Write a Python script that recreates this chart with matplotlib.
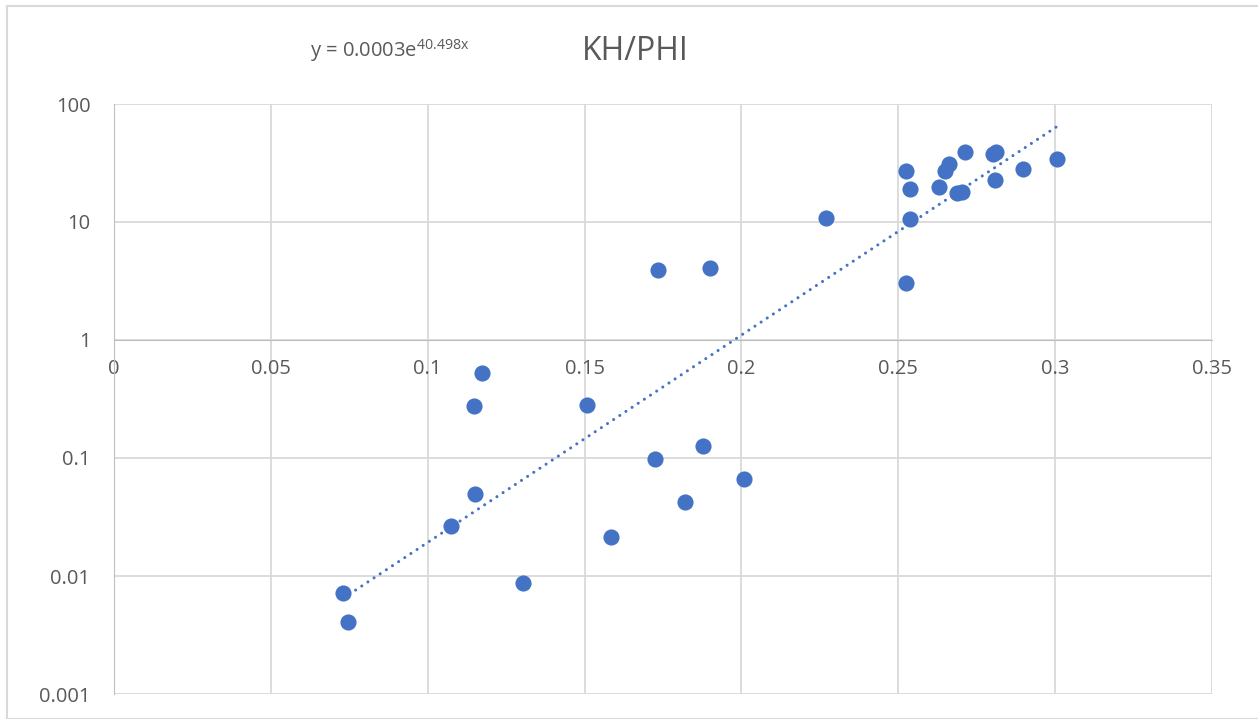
import matplotlib.pyplot as plt
import numpy as np
from matplotlib.patches import Rectangle
from matplotlib.ticker import FixedLocator, FixedFormatter

plt.rcParams['font.family'] = ['Open Sans', 'DejaVu Sans']
plt.rcParams['mathtext.fontset'] = 'custom'
plt.rcParams['mathtext.rm'] = 'Open Sans'

# porosity vs KH/PHI
phi = [0.0731, 0.0747, 0.1075, 0.1152, 0.1146, 0.1174, 0.1305, 0.1509, 0.1585,
       0.1725, 0.1821, 0.1878, 0.2009, 0.1735, 0.1901, 0.2268, 0.2526, 0.2526,
       0.2538, 0.2538, 0.2630, 0.2650, 0.2663, 0.2688, 0.2704, 0.2714, 0.2803,
       0.2813, 0.2809, 0.2898, 0.3007]
kh_phi = [0.00718, 0.00407, 0.0265, 0.0495, 0.276, 0.525, 0.0087, 0.281, 0.0214,
          0.098, 0.0424, 0.126, 0.0664, 3.92, 4.07, 10.8, 3.04, 27.0,
          10.6, 19.0, 19.8, 27.0, 31.0, 17.6, 17.9, 39.2, 37.6,
          39.2, 22.7, 28.1, 34.2]

xticks = [0, 0.05, 0.1, 0.15, 0.2, 0.25, 0.3, 0.35]
xlabels = ['0', '0.05', '0.1', '0.15', '0.2', '0.25', '0.3', '0.35']
yticks = [0.001, 0.01, 0.1, 1, 10, 100]
ylabels = ['0.001', '0.01', '0.1', '1', '10', '100']

blue = '#4472C4'
grid = '#d9d9d9'
txt = '#595959'

# exponential trendline, fitted like Excel does (least squares on ln y)
b, ln_a = np.polyfit(phi, np.log(kh_phi), 1)

fig = plt.figure(figsize=(12.58, 7.19), dpi=100)
fig.patches.append(Rectangle((7 / 1258, 0), 1.0, 1 - 6 / 719, transform=fig.transFigure,
                             fill=False, edgecolor='#d9d9d9', lw=1.5))
ax = fig.add_axes([114 / 1258, 1 - 694 / 719, (1212 - 114) / 1258, (694 - 104) / 719])

ax.set_yscale('log')
ax.set_xlim(0, 0.35)
ax.set_ylim(0.001, 100)

ax.yaxis.set_major_locator(FixedLocator(yticks))
ax.yaxis.set_major_formatter(FixedFormatter(ylabels))
ax.yaxis.set_minor_locator(FixedLocator([]))
ax.set_xticks(xticks)
ax.set_xticklabels(xlabels)

ax.grid(True, color=grid, lw=1.3)
ax.set_axisbelow(True)
for s in ['top', 'right']:
    ax.spines[s].set_visible(False)
ax.spines['left'].set_color('#bfbfbf')
ax.spines['bottom'].set_color('#bfbfbf')
ax.spines['bottom'].set_position(('data', 1))
ax.tick_params(length=0, labelsize=14.5, colors=txt)
ax.tick_params(axis='y', pad=17)
ax.tick_params(axis='x', pad=14)
for lab in ax.get_xticklabels() + ax.get_yticklabels():
    lab.set_clip_on(False)

xs = np.linspace(min(phi), max(phi), 200)
ax.plot(xs, np.exp(ln_a) * np.exp(b * xs), color=blue, lw=2.2, linestyle=(0, (0.01, 2.4)),
        dash_capstyle='round', zorder=2)
ax.scatter(phi, kh_phi, s=135, color=blue, linewidth=0, zorder=3, clip_on=False)

fig.text(635 / 1258, 1 - 52 / 719, 'KH/PHI', ha='center', va='center',
         fontsize=23, color=txt)
fig.text(310 / 1258, 1 - 51 / 719, r'y = 0.0003e$^{\mathregular{40.498x}}$',
         ha='left', va='center', fontsize=14.5, color=txt)

fig.savefig('out.png', dpi=100)
